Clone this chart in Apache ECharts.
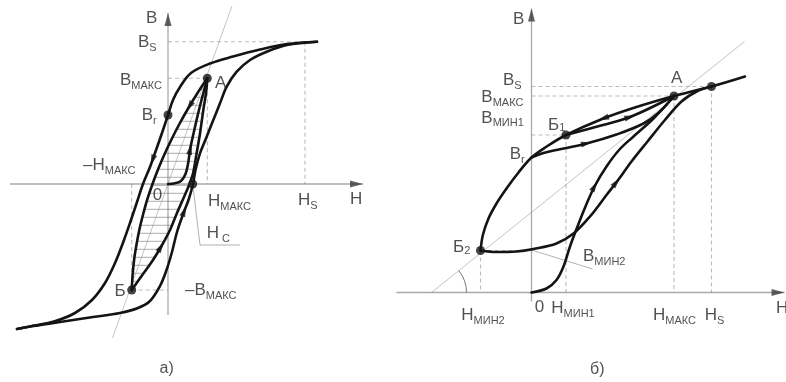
<!DOCTYPE html>
<html>
<head>
<meta charset="utf-8">
<script src="https://cdn.jsdelivr.net/npm/echarts@6/dist/echarts.min.js"></script>
<style>
  html, body { margin: 0; padding: 0; background: #fff; }
  #chart { width: 786px; height: 382px; }
</style>
</head>
<body>
<div id="chart"></div>
<script>
// ===== Panel а): major loop, symmetric minor loop А–Б, initial curve =====
// Units: field H along x, induction B along y (arbitrary units, origin at 0).
const aOuterDown = [[149,142.3],[119,140],[92,134.5],[65,127.5],[42,120.5],[23,111],[12,97],[5,84],[0,69],[-6,51],[-13,31],[-18,17],[-25,0],[-31,-18],[-37,-36],[-44,-56],[-53,-79],[-63,-99],[-76,-116],[-93,-129],[-114,-137.5],[-138,-142.5],[-151,-145]];
const aOuterUp = [[-151,-145],[-138,-142.5],[-108,-138],[-75,-133],[-48,-129],[-30,-124],[-18,-117],[-8,-102],[-1.5,-86],[4,-68],[9,-48],[15.5,-29],[20.5,-16],[25,0],[27.5,14],[32,30.7],[38.7,47.3],[45.3,64],[52,80.7],[58.7,97.3],[68.7,112.3],[82,124],[98.7,132.3],[119,139],[149,142.3]];
const aInnerDown = [[39.3,105.7],[28.9,90],[19.8,75],[11.4,60],[3.7,45],[-3.4,30],[-9.8,15],[-15.5,0],[-20.6,-15],[-24.8,-30],[-28.5,-45],[-31.4,-60],[-33.8,-75],[-35.3,-90],[-36.3,-106]];
const aInnerUp = [[-36.3,-106],[-25,-90],[-15,-76],[-6.5,-62],[2,-46],[9,-29],[16,-13],[21.5,0],[25,10.5],[28.5,30],[32,50.5],[35.3,74],[38,91],[39.3,105.7]];
const aInitial = [[0,0],[7,0.8],[13,3],[17.5,10],[20,20],[22,34],[24.5,46],[27,57],[30,70],[33.5,84],[39.3,105.7]];
const aLoadLine = [[-55.5,-154],[64,178]];
const aA = [39.3,105.7], aB = [-36.3,-106], aBr = [0,69], aHc = [24.7,0];
const aHs = 137, aBs = 142.3;
const aHcLeader = [[24.7,0],[32,-61],[72,-61]];
const aAxisX = [[-158,0],[195,0]], aAxisY = [[0,-131],[0,171]];
const aHatchStep = 8, aHatchFrom = -97.3, aHatchTo = 100;
// direction marks: [curve, approximate place]
const aArrows = [[aOuterDown,[-16,24]],[aInnerDown,[21,78]],[aInitial,[21.5,35]],[aInnerUp,[-7,-63]],[aOuterUp,[16,-27]]];
// [main, subscript, left, middle of main glyphs]
const aLabels = [
  ['B', '', -22, 165.7], ['B', 'S', -30, 141.5], ['B', 'МАКС', -48, 104],
  ['B', 'r', -26.3, 69], ['–H', 'МАКС', -85, 19], ['0', '', -15.2, -11],
  ['H', 'МАКС', 40, -17.5], ['H', 'S', 130, -16], ['H', '', 182, -15],
  ['H', ' C', 38.7, -49.5], ['–B', 'МАКС', 17, -106], ['Б', '', -53.5, -107],
  ['А', '', 47, 101]
];
const aCaption = ['а)', -8.4, -185];

// ===== Panel б): partial loops on a biased field =====
const bDescending = [[213.5,216],[180,206],[142.5,196.5],[105,185.5],[71.8,174],[34.5,157.5],[15.2,146],[0,135],[-13,120],[-25,104],[-35,89],[-43,74],[-48.5,58],[-51,42]];
const bLoop1 = [[34.5,157.5],[65,165.8],[98.5,175.5],[142.5,196.5]];
const bFromBr = [[0,135],[12,139.5],[25,142.5],[55,149],[85,158],[112,169],[128,180.5],[142.5,196.5]];
const bInitial = [[0,0],[15,4],[25,12.5],[32,26],[38.5,46],[46,66],[54,86],[63,106],[75,126],[88,143],[102,156],[122,174],[142.5,196.5]];
const bFromB2 = [[-51,42],[-35,40.5],[-15,41],[2,43.5],[25,49],[42,59],[58.5,76],[75,97.5],[87,113],[100,131],[116,151],[133,172],[150,191],[166,201.5],[180,206]];
const bLoadLine = [[-100,0],[213,251]];
const bA = [142.5,196.5], bHsPt = [180,206], bB1 = [34.5,157.5], bB2 = [-51,42];
const bMin2Leader = [[0,42.5],[61,23.5]];
const bAxisX = [[-135,0],[253,0]], bAxisY = [[0,-9],[0,284]];
const bAngleRadius = 35;
const bArrows = [[bDescending,[71.8,174]],[bLoop1,[98.5,175.5]],[bFromBr,[55,149]],[bInitial,[63.5,106]],[bFromB2,[85,110]]];
const bLabels = [
  ['B', '', -18.5, 273.5], ['B', 'S', -28.5, 212.5], ['А', '', 139.5, 214.2],
  ['B', 'МАКС', -50.2, 195.5], ['B', 'МИН1', -50.2, 174.6], ['Б', '1', 16.5, 167.5],
  ['B', 'r', -21.8, 138.3], ['Б', '2', -78.5, 45], ['B', 'МИН2', 51.5, 35.8],
  ['H', 'МИН2', -70.2, -22.5], ['0', '', 3.2, -15], ['H', 'МИН1', 19.8, -15.8],
  ['H', 'МАКС', 121.5, -22.5], ['H', 'S', 173.2, -22.5], ['H', '', 244.5, -15.8]
];
const bCaption = ['б)', 58.5, -77.5];

// ===== drawing =====
const FONT = '"Liberation Sans", Arial, sans-serif';
const INK = '#141414', AXIS = '#555', THIN = '#8a8a8a', DASH = '#777', TEXT = '#262626';
const ARROW = 'path://M0,0L5,14L-5,14Z';
const MAIN_SIZE = 17, SUB_SIZE = 11, SUB_DROP = 5.5;

const measureCtx = document.createElement('canvas').getContext('2d');
function textWidth(t, size) {
  measureCtx.font = size + 'px "Liberation Sans", Arial, sans-serif';
  return measureCtx.measureText(t).width;
}

const series = [];
function curve(data, ax) {
  series.push({ type: 'line', xAxisIndex: ax, yAxisIndex: ax, data, smooth: 0.35, symbol: 'none',
    lineStyle: { color: INK, width: 2.6, cap: 'round', join: 'round' }, z: 5, silent: true });
}
function segs(list, ax, style, z) {
  series.push({ type: 'lines', coordinateSystem: 'cartesian2d', xAxisIndex: ax, yAxisIndex: ax,
    polyline: true, data: list.map(c => ({ coords: c })), lineStyle: style, z, silent: true });
}
function project(poly, p) {
  let best = null;
  for (let i = 0; i < poly.length - 1; i++) {
    const [x1, y1] = poly[i], [x2, y2] = poly[i + 1];
    const dx = x2 - x1, dy = y2 - y1, L = dx * dx + dy * dy;
    let t = ((p[0] - x1) * dx + (p[1] - y1) * dy) / L;
    t = Math.max(0, Math.min(1, t));
    const q = [x1 + t * dx, y1 + t * dy];
    const d = (q[0] - p[0]) ** 2 + (q[1] - p[1]) ** 2;
    if (!best || d < best.d) best = { d, q, ang: Math.atan2(dy, dx) };
  }
  return best;
}
function arrows(list, ax) {
  series.push({ type: 'scatter', xAxisIndex: ax, yAxisIndex: ax, symbol: ARROW, symbolSize: [6, 11],
    itemStyle: { color: INK }, z: 7, silent: true,
    data: list.map(([poly, p]) => {
      const r = project(poly, p);
      return { value: r.q, symbolRotate: r.ang * 180 / Math.PI - 90 };
    }) });
}
function axisArrows(ax, xEnd, yEnd) {
  series.push({ type: 'scatter', xAxisIndex: ax, yAxisIndex: ax, symbol: ARROW, symbolSize: [7, 13],
    itemStyle: { color: '#3a3a3a' }, z: 4, silent: true,
    data: [{ value: [xEnd[0] - 6.5, xEnd[1]], symbolRotate: -90 }, { value: [yEnd[0], yEnd[1] - 6.5], symbolRotate: 0 }] });
}
function dots(list, ax) {
  series.push({ type: 'scatter', xAxisIndex: ax, yAxisIndex: ax, symbol: 'circle', symbolSize: 9,
    itemStyle: { color: INK }, z: 8, silent: true, data: list });
}
function textItem(t, x, y, size) {
  return { value: [x, y], label: { formatter: t, fontSize: size } };
}
function labels(list, caption, ax) {
  const items = [];
  list.forEach(([main, sub, x, y]) => {
    items.push(textItem(main, x, y, MAIN_SIZE));
    if (sub) {
      const digit = /^[0-9]$/.test(sub);
      items.push(textItem(sub, x + textWidth(main, MAIN_SIZE), y - (digit ? 3 : SUB_DROP), SUB_SIZE));
    }
  });
  items.push(textItem(caption[0], caption[1], caption[2], 16));
  series.push({ type: 'scatter', xAxisIndex: ax, yAxisIndex: ax, symbolSize: 0,
    itemStyle: { color: 'transparent' }, z: 10, silent: true,
    label: { show: true, position: [0, 0], align: 'left', verticalAlign: 'middle',
      fontFamily: FONT, color: TEXT },
    data: items });
}
function xAtY(poly, y) {
  for (let i = 0; i < poly.length - 1; i++) {
    const [x1, y1] = poly[i], [x2, y2] = poly[i + 1];
    if ((y - y1) * (y - y2) <= 0 && y1 !== y2) return x1 + (x2 - x1) * (y - y1) / (y2 - y1);
  }
  return null;
}

const dashStyle = { color: DASH, width: 1.1, type: [4, 3] };
const thinStyle = { color: THIN, width: 1 };
const axisStyle = { color: AXIS, width: 1.3 };

// --- panel а) ---
const hatch = [];
for (let y = aHatchFrom; y <= aHatchTo; y += aHatchStep) {
  const xl = xAtY(aInnerDown, y), xr = xAtY(aInnerUp, y);
  if (xl !== null && xr !== null) hatch.push([[xl, y], [xr, y]]);
}
segs(hatch, 0, { color: '#5a5a5a', width: 1 }, 2);
segs([aAxisX, aAxisY], 0, axisStyle, 3);
axisArrows(0, aAxisX[1], aAxisY[1]);
segs([aLoadLine], 0, thinStyle, 3);
segs([aHcLeader], 0, { color: '#666', width: 1 }, 3);
segs([
  [[0, aBs], [aHs, aBs]], [[aHs, aBs], [aHs, 0]],
  [[0, aA[1]], aA], [aA, [aA[0], 0]],
  [aB, [0, aB[1]]], [[aB[0], 0], aB]
], 0, dashStyle, 3);
[aOuterDown, aOuterUp, aInnerDown, aInnerUp, aInitial].forEach(c => curve(c, 0));
arrows(aArrows, 0);
dots([aA, aB, aBr, aHc], 0);
labels(aLabels, aCaption, 0);

// --- panel б) ---
segs([bAxisX, bAxisY], 1, axisStyle, 3);
axisArrows(1, bAxisX[1], bAxisY[1]);
segs([bLoadLine], 1, thinStyle, 3);
segs([bMin2Leader], 1, { color: '#666', width: 1 }, 3);
segs([
  [[0, bHsPt[1]], bHsPt], [bHsPt, [bHsPt[0], 0]],
  [[0, bA[1]], bA], [bA, [bA[0], 0]],
  [[0, bB1[1]], bB1], [bB1, [bB1[0], 0]],
  [bB2, [0, bB2[1]]], [bB2, [bB2[0], 0]]
], 1, dashStyle, 3);
[bDescending, bLoop1, bFromBr, bInitial, bFromB2].forEach(c => curve(c, 1));
arrows(bArrows, 1);
dots([bA, bHsPt, bB1, bB2], 1);
labels(bLabels, bCaption, 1);
// angle between the load line and the H axis
const bSlope = (bLoadLine[1][1] - bLoadLine[0][1]) / (bLoadLine[1][0] - bLoadLine[0][0]);
series.push({ type: 'custom', xAxisIndex: 1, yAxisIndex: 1, data: [bLoadLine[0]], z: 3, silent: true,
  renderItem: (params, api) => {
    const c = api.coord([api.value(0), api.value(1)]);
    const r = api.size([bAngleRadius, 0])[0];
    return { type: 'arc', shape: { cx: c[0], cy: c[1], r, startAngle: -Math.atan(bSlope), endAngle: 0 },
      style: { stroke: '#777', fill: null, lineWidth: 1 } };
  } });

const chart = echarts.init(document.getElementById('chart'), null, { renderer: 'canvas' });
chart.setOption({
  animation: false,
  backgroundColor: '#fff',
  grid: [
    { left: 0, top: 0, width: 393, height: 382 },
    { left: 393, top: 0, width: 393, height: 382 }
  ],
  xAxis: [
    { type: 'value', gridIndex: 0, min: -168, max: 225, show: false },
    { type: 'value', gridIndex: 1, min: -138.5, max: 254.5, show: false }
  ],
  yAxis: [
    { type: 'value', gridIndex: 0, min: -198, max: 184, show: false },
    { type: 'value', gridIndex: 1, min: -89.5, max: 292.5, show: false }
  ],
  series
});
</script>
</body>
</html>
